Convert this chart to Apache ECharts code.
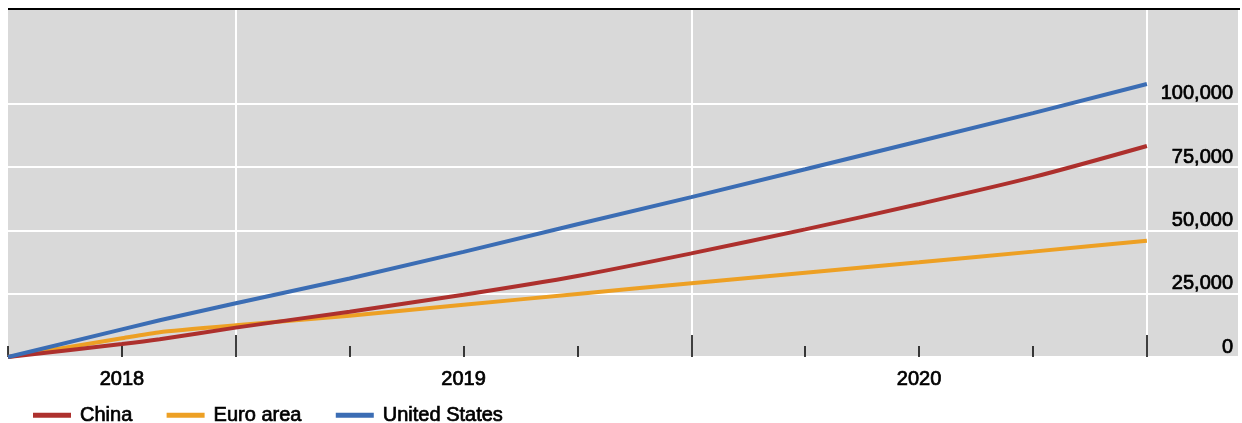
<!DOCTYPE html>
<html>
<head>
<meta charset="utf-8">
<script src="https://cdn.jsdelivr.net/npm/echarts@6/dist/echarts.min.js"></script>
<style>
html,body{margin:0;padding:0;background:#fff;}
#c{width:1242px;height:423px;}
</style>
</head>
<body>
<div id="c"></div>
<script>
// x positions in fractional years
const xYears = [2018.5, 2018.75, 2018.833, 2019.0, 2019.25, 2019.5, 2019.75, 2020.0, 2020.25, 2020.5, 2020.75, 2021.0];
const china = [0, 5100, 7000, 11600, 17900, 24600, 32000, 40900, 50400, 60400, 71000, 83300];
const euroArea = [0, 7400, 9800, 12500, 16300, 20600, 24900, 29100, 33300, 37400, 41600, 45900];
const unitedStates = [0, 10900, 14500, 21200, 31000, 41500, 52400, 63100, 74100, 85200, 96300, 107800];
const seriesNames = ['China', 'Euro area', 'United States'];
const minorTicks = [2018.5, 2018.75, 2019.25, 2019.5, 2019.75, 2020.25, 2020.5, 2020.75];
const majorTicks = [2019, 2020, 2021];
const yearLabelPos = [2018.75, 2019.5, 2020.5];
const yTicks = [0, 25000, 50000, 75000, 100000];

const colors = ['#AD302D', '#EDA024', '#3B6DB4'];
const FONT = 'Liberation Sans';
const boldish = {textBorderColor: '#000', textBorderWidth: 0.7};

function pairs(vals){ return xYears.map((x,i)=>[x, vals[i]]); }

const chart = echarts.init(document.getElementById('c'), null, {renderer:'canvas'});
chart.setOption({
  animation: false,
  textStyle: {fontFamily: FONT},
  grid: {left: 8, right: 4, top: 10, bottom: 66, show: true, backgroundColor: '#D9D9D9', borderWidth: 0},
  xAxis: [{
    type: 'value', min: 2018.5, max: 2021.2, position: 'bottom',
    axisLine: {show: false},
    axisTick: {show: true, inside: true, length: 11, customValues: minorTicks, lineStyle: {color: '#000', width: 1.5}},
    axisLabel: Object.assign({customValues: yearLabelPos, formatter: v => String(Math.floor(v)), color: '#000', fontSize: 20, margin: 12, fontFamily: FONT}, boldish),
    splitLine: {show: false}
  }, {
    type: 'value', min: 2018.5, max: 2021.2, position: 'bottom',
    axisLine: {show: false},
    axisTick: {show: true, inside: true, length: 22, customValues: majorTicks, lineStyle: {color: '#000', width: 1.5}},
    axisLabel: {show: false, customValues: majorTicks},
    splitLine: {show: true, lineStyle: {color: '#fff', width: 2}}
  }],
  yAxis: {
    type: 'value', min: 0, max: 137000, position: 'right',
    axisLine: {show: false},
    axisTick: {show: false, customValues: yTicks},
    axisLabel: Object.assign({inside: true, customValues: yTicks, verticalAlign: 'bottom', margin: 5, color: '#000', fontSize: 20, fontFamily: FONT,
      formatter: v => v.toLocaleString('en-US')}, boldish),
    splitLine: {show: true, lineStyle: {color: '#fff', width: 2}}
  },
  legend: {
    left: 28, top: 400, icon: 'rect', itemWidth: 38, itemHeight: 5, itemGap: 34,
    textStyle: Object.assign({fontSize: 20, color: '#000', fontFamily: FONT, padding: [0,0,0,4]}, boldish),
    data: seriesNames
  },
  graphic: [{type: 'line', shape: {x1: 8, y1: 9, x2: 1240, y2: 9}, style: {stroke: '#000', lineWidth: 2}, z: 100}],
  series: [
    {name: seriesNames[0], type: 'line', data: pairs(china), smooth: 0.3, showSymbol: false, lineStyle: {width: 4, color: colors[0]}, itemStyle: {color: colors[0]}, z: 4},
    {name: seriesNames[1], type: 'line', data: pairs(euroArea), smooth: 0.15, showSymbol: false, lineStyle: {width: 4, color: colors[1]}, itemStyle: {color: colors[1]}, z: 3},
    {name: seriesNames[2], type: 'line', data: pairs(unitedStates), showSymbol: false, lineStyle: {width: 4, color: colors[2]}, itemStyle: {color: colors[2]}, z: 5}
  ]
});
</script>
</body>
</html>
